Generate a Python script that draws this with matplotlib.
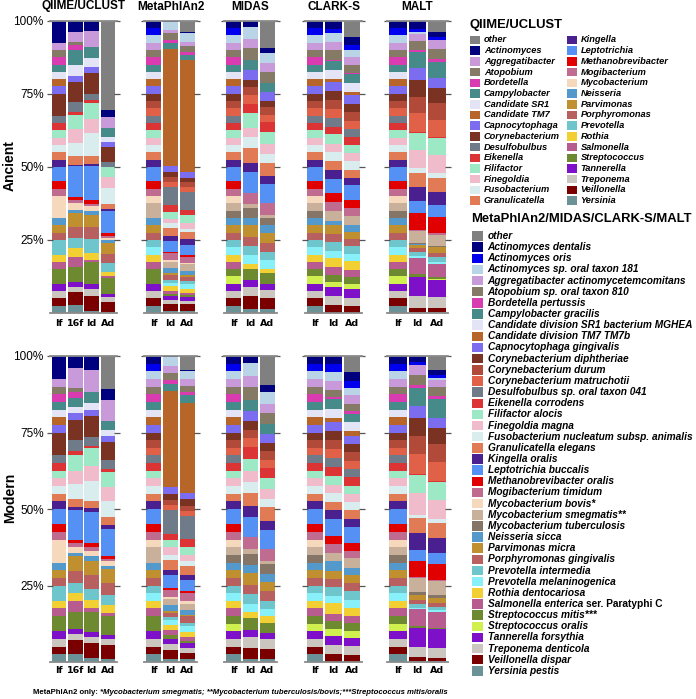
import numpy as np
import matplotlib
matplotlib.use("Agg")
import matplotlib.pyplot as plt
from matplotlib import font_manager
from matplotlib.patches import Rectangle

plt.rcParams["font.family"] = ["Liberation Sans", "DejaVu Sans"]

# ---- taxa (legend order; stacks are drawn bottom-up from the end of the list) ----
GENERA = [
    "other", "Actinomyces", "Aggregatibacter", "Atopobium", "Bordetella",
    "Campylobacter", "Candidate SR1", "Candidate TM7", "Capnocytophaga",
    "Corynebacterium", "Desulfobulbus", "Eikenella", "Filifactor", "Finegoldia",
    "Fusobacterium", "Granulicatella", "Kingella", "Leptotrichia",
    "Methanobrevibacter", "Mogibacterium", "Mycobacterium", "Neisseria",
    "Parvimonas", "Porphyromonas", "Prevotella", "Rothia", "Salmonella",
    "Streptococcus", "Tannerella", "Treponema", "Veillonella", "Yersinia",
]
GENUS_COLORS = [
    "#808080", "#00007f", "#c99ad9", "#857a66", "#d93bb0",
    "#468b8a", "#e3e4f5", "#b8652a", "#7b6cf0",
    "#7a3322", "#6f7b89", "#dc3434", "#9de8c5", "#f0bccc",
    "#d9ecee", "#e07b55", "#4a2090", "#5590f5",
    "#e00000", "#c06b90", "#f6d8bd", "#5499cc",
    "#c09030", "#b86060", "#6ec6cc", "#f2d033", "#b85c90",
    "#6e8a30", "#7d10c8", "#cbc6bf", "#7a0000", "#6b9296",
]

SPECIES = [
    "other", "Actinomyces dentalis", "Actinomyces oris",
    "Actinomyces sp. oral taxon 181", "Aggregatibacter actinomycetemcomitans",
    "Atopobium sp. oral taxon 810", "Bordetella pertussis", "Campylobacter gracilis",
    "Candidate division SR1 bacterium MGHEA", "Candidate division TM7 TM7b",
    "Capnocytophaga gingivalis", "Corynebacterium diphtheriae",
    "Corynebacterium durum", "Corynebacterium matruchotii",
    "Desulfobulbus sp. oral taxon 041", "Eikenella corrodens", "Filifactor alocis",
    "Finegoldia magna", "Fusobacterium nucleatum subsp. animalis",
    "Granulicatella elegans", "Kingella oralis", "Leptotrichia buccalis",
    "Methanobrevibacter oralis", "Mogibacterium timidum", "Mycobacterium bovis*",
    "Mycobacterium smegmatis**", "Mycobacterium tuberculosis", "Neisseria sicca",
    "Parvimonas micra", "Porphyromonas gingivalis", "Prevotella intermedia",
    "Prevotella melaninogenica", "Rothia dentocariosa",
    "Salmonella enterica ser. Paratyphi C", "Streptococcus mitis***",
    "Streptococcus oralis", "Tannerella forsythia", "Treponema denticola",
    "Veillonella dispar", "Yersinia pestis",
]
SPECIES_COLORS = [
    "#808080", "#00007f", "#0000ee",
    "#b8d4e6", "#c99ad9",
    "#857a66", "#d93bb0", "#468b8a",
    "#e3e4f5", "#b8652a",
    "#7b6cf0", "#7a3322",
    "#b24a3a", "#e06048",
    "#6f7b89", "#dc3434", "#9de8c5",
    "#f0bccc", "#d9ecee",
    "#e07b55", "#4a2090", "#5590f5",
    "#e00000", "#c06b90", "#f6d8bd",
    "#c8b09a", "#857566", "#5499cc",
    "#c09030", "#b86060", "#6ec6cc",
    "#88f0f8", "#f2d033",
    "#b85c90", "#6e8a30",
    "#d0f050", "#7d10c8", "#cbc6bf",
    "#7a0000", "#6b9296",
]

QIIME_LABELS = ["If", "16f", "Id", "Ad"]
SPECIES_LABELS = ["If", "Id", "Ad"]

# ---- QIIME/UCLUST, genus level (% per genus, GENERA order) ----
QIIME_IF = [0, 7.5, 2.5, 2.5, 2.5, 2.5, 2.5, 2.5, 2.5, 7.5,
            2.5, 2.5, 2.5, 2.5, 2.5, 2.5, 2.5, 5.0, 2.5, 2.5,
            7.5, 2.5, 2.5, 2.5, 5.0, 2.5, 2.5, 5.0, 2.5, 2.5,
            2.5, 2.5]
QIIME_ANC_16F = [0, 4.0, 3.2, 1.1, 1.7, 5.1, 3.8, 0, 1.9, 6.8,
                 3.4, 1.1, 4.8, 4.6, 4.6, 2.9, 0.6, 10.3, 1.1, 1.1,
                 2.3, 1.1, 4.8, 3.8, 3.4, 2.9, 3.4, 5.3, 1.5, 1.7,
                 4.6, 2.6]
QIIME_ANC_ID = [0, 3.5, 5.4, 0, 0, 4.0, 2.9, 0, 2.0, 7.3,
                2.0, 0.9, 5.4, 5.1, 7.8, 2.5, 0.9, 11.4, 1.4, 0.9,
                1.6, 1.5, 4.1, 3.8, 4.9, 2.3, 0.8, 7.6, 1.7, 2.4,
                5.0, 0.7]
QIIME_ANC_AD = [30.5, 2.5, 3.8, 0, 0, 2.9, 1.7, 0, 1.7, 5.1,
                1.7, 0, 3.6, 3.8, 5.4, 1.5, 0.9, 7.6, 0.9, 0.5,
                0.7, 1.1, 3.7, 3.2, 3.1, 1.5, 0.5, 5.5, 1.1, 1.5,
                3.6, 0.3]
QIIME_MOD_16F = [0, 4.0, 6.5, 1.1, 1.9, 3.1, 2.0, 0, 2.1, 6.5,
                 3.6, 1.3, 5.2, 4.4, 4.9, 2.4, 1.1, 9.8, 0.8, 1.4,
                 1.8, 1.1, 4.9, 3.8, 3.3, 2.7, 3.3, 5.8, 1.5, 2.0,
                 4.4, 2.7]
QIIME_MOD_ID = [0, 4.4, 7.3, 0, 0, 3.6, 2.1, 0, 2.0, 6.9,
                3.0, 0.7, 5.8, 4.9, 6.5, 2.2, 1.4, 10.0, 1.1, 1.4,
                1.8, 1.4, 4.6, 4.6, 3.4, 2.7, 1.3, 6.5, 1.6, 2.0,
                4.9, 1.3]
QIIME_MOD_AD = [10.6, 3.6, 6.8, 0, 0, 3.0, 1.9, 0, 1.9, 6.0,
                2.7, 0.9, 5.1, 4.5, 5.1, 2.7, 1.1, 8.7, 1.1, 0.5,
                1.6, 1.1, 4.4, 4.0, 3.3, 2.5, 1.1, 6.0, 1.3, 2.0,
                4.4, 1.1]

# ---- species level (% per species, SPECIES order) ----
SPECIES_IF = [0, 2.5, 2.5, 2.5, 2.5, 2.5, 2.5, 2.5, 2.5, 2.5,
              2.5, 2.5, 2.5, 2.5, 2.5, 2.5, 2.5, 2.5, 2.5, 2.5,
              2.5, 5.0, 2.5, 2.5, 2.5, 2.5, 2.5, 2.5, 2.5, 2.5,
              2.5, 2.5, 2.5, 2.5, 2.5, 2.5, 2.5, 2.5, 2.5, 2.5]
METAPHLAN_IF = [0, 2.5, 2.5, 2.5, 2.5, 2.5, 2.5, 2.5, 2.5, 2.5,
                2.5, 2.5, 2.5, 2.5, 2.5, 2.5, 2.5, 2.5, 2.5, 2.5,
                2.5, 5.0, 2.5, 2.5, 2.5, 5.0, 0, 2.5, 2.5, 2.5,
                2.5, 2.5, 2.5, 2.5, 5.0, 0, 2.5, 2.5, 2.5, 2.5]

METAPHLAN_ANC_ID = [0, 0.3, 0, 2.9, 1.1, 2.5, 0.9, 2.0, 0, 40.4,
                    1.8, 1.9, 1.5, 1.9, 6.3, 2.3, 2.3, 1.4, 1.8, 2.7,
                    1.8, 3.6, 0.6, 2.3, 0.6, 2.1, 0, 1.7, 0.6, 1.7,
                    1.1, 1.1, 1.9, 0.8, 0.7, 0, 1.4, 1.4, 2.3, 0.8]
METAPHLAN_ANC_AD = [3.8, 0.6, 0, 2.9, 1.5, 1.9, 1.1, 1.9, 0, 38.5,
                    2.1, 1.4, 1.7, 1.7, 6.3, 1.7, 2.7, 2.1, 1.1, 2.5,
                    2.1, 3.4, 0.5, 2.1, 0.6, 2.3, 0, 1.5, 0.4, 1.6,
                    1.1, 1.5, 1.5, 0.8, 0.6, 0, 1.4, 1.1, 2.3, 0.7]
METAPHLAN_MOD_ID = [0, 0.4, 0, 2.8, 2.2, 2.4, 1.3, 2.2, 0, 31.4,
                    2.2, 2.0, 1.9, 1.6, 7.6, 2.2, 2.2, 2.7, 1.6, 3.3,
                    1.6, 4.0, 0.7, 2.4, 0.5, 2.2, 0, 1.9, 0.5, 1.4,
                    1.1, 1.4, 1.9, 1.6, 1.1, 0, 1.6, 2.2, 2.9, 0.9]
METAPHLAN_MOD_AD = [4.6, 0.5, 0, 2.5, 2.2, 2.2, 1.1, 2.4, 0, 30.0,
                    1.9, 2.5, 1.6, 1.6, 7.6, 2.7, 2.5, 2.2, 1.5, 3.1,
                    1.6, 3.8, 0.5, 2.7, 0.9, 1.9, 0, 1.9, 0.4, 2.0,
                    1.3, 1.7, 1.9, 1.1, 0.8, 0, 1.7, 1.5, 2.2, 0.9]

MIDAS_ANC_ID = [0, 2.1, 0, 4.0, 3.4, 4.0, 0, 3.4, 0, 0,
                3.4, 2.5, 2.6, 3.1, 0, 3.2, 5.1, 3.1, 3.8, 4.9,
                3.1, 7.2, 0, 3.9, 0, 1.5, 3.1, 2.6, 4.0, 3.2,
                3.1, 2.9, 1.7, 0, 4.0, 0, 2.3, 3.2, 4.2, 1.5]
MIDAS_ANC_AD = [9.5, 1.5, 0, 3.6, 2.9, 4.0, 0, 2.9, 0, 0,
                3.1, 2.1, 2.9, 2.3, 0, 3.4, 4.2, 3.2, 3.2, 4.6,
                2.7, 6.6, 0, 4.0, 0, 1.1, 2.3, 2.9, 3.4, 2.9,
                2.9, 2.9, 1.5, 0, 3.6, 0, 2.1, 2.7, 3.8, 1.5]
MIDAS_MOD_ID = [0, 2.4, 0, 4.1, 3.5, 4.4, 0, 3.5, 0, 0,
                3.1, 3.1, 2.7, 2.9, 0, 3.8, 3.8, 3.8, 3.3, 4.4,
                3.6, 6.5, 0, 4.0, 0, 1.4, 3.5, 2.7, 3.8, 3.1,
                3.3, 2.4, 2.2, 0, 3.8, 0, 2.2, 3.6, 3.5, 1.1]
MIDAS_MOD_AD = [9.5, 2.2, 0, 3.8, 3.1, 3.7, 0, 3.3, 0, 0,
                2.8, 2.7, 2.7, 2.6, 0, 3.3, 3.6, 3.3, 2.7, 4.4,
                3.1, 6.2, 0, 3.8, 0, 0.9, 3.3, 2.6, 3.1, 3.1,
                2.6, 2.5, 2.2, 0, 3.3, 0, 1.9, 3.1, 3.5, 0.9]

CLARK_ANC_ID = [0, 3.0, 1.4, 2.9, 2.9, 3.2, 0.5, 3.0, 3.1, 1.1,
                3.1, 3.0, 3.1, 3.1, 3.0, 2.7, 3.2, 2.9, 3.1, 3.2,
                2.9, 4.9, 3.1, 3.1, 0, 3.2, 0, 1.7, 2.9, 2.9,
                3.1, 2.3, 3.2, 2.5, 2.6, 1.7, 3.2, 3.1, 2.6, 0]
CLARK_ANC_AD = [5.5, 2.9, 1.7, 2.3, 2.9, 2.6, 0.5, 3.0, 3.1, 1.1,
                2.9, 2.9, 2.9, 2.9, 2.9, 2.5, 3.0, 2.7, 3.0, 2.7,
                2.6, 4.9, 2.7, 3.0, 0, 3.1, 0, 2.3, 2.3, 2.6,
                2.5, 2.5, 3.0, 2.5, 2.3, 1.7, 3.1, 3.0, 2.3, 0]
CLARK_MOD_ID = [0, 2.6, 2.5, 2.9, 2.8, 2.4, 0.8, 3.0, 2.9, 1.4,
                2.9, 2.8, 2.9, 2.9, 2.8, 2.9, 2.9, 2.8, 2.9, 2.5,
                2.9, 5.4, 2.7, 2.7, 0, 2.7, 0, 3.1, 2.6, 2.8,
                2.6, 2.5, 3.3, 2.5, 2.4, 2.2, 3.1, 2.9, 2.5, 0]
CLARK_MOD_AD = [5.1, 2.9, 2.2, 2.5, 2.7, 2.4, 0.9, 2.7, 2.9, 1.4,
                2.9, 2.5, 2.7, 2.7, 2.7, 2.7, 2.7, 2.7, 2.5, 2.9,
                2.7, 4.9, 2.7, 2.4, 0, 3.1, 0, 2.4, 2.5, 2.7,
                2.7, 2.5, 2.6, 2.5, 2.5, 2.2, 2.6, 2.8, 2.4, 0]

MALT_ANC_ID = [0, 3.0, 0.8, 0.6, 2.5, 3.2, 0.8, 5.5, 0, 0,
               4.0, 5.7, 5.7, 6.3, 0, 0.4, 5.9, 6.3, 1.5, 5.0,
               4.6, 4.3, 5.7, 0.6, 0, 3.8, 0.5, 0.3, 1.1, 1.5,
               1.1, 0.8, 0, 5.5, 0.9, 0.2, 6.6, 3.9, 1.5, 0.3]
MALT_ANC_AD = [3.8, 1.9, 0.9, 0, 3.2, 3.4, 0.8, 5.7, 0, 0,
               3.4, 5.1, 5.7, 5.7, 0, 0.6, 5.7, 6.3, 1.7, 4.6,
               4.6, 4.0, 5.5, 0.5, 0, 3.8, 0.6, 0, 2.0, 1.4,
               1.4, 0.9, 0, 4.3, 0.8, 0.3, 5.9, 3.6, 1.5, 0.3]
MALT_MOD_ID = [0, 1.9, 1.1, 0, 3.3, 3.3, 0.8, 6.1, 0, 0,
               3.7, 5.8, 6.0, 6.5, 0, 0.3, 6.0, 7.1, 0.9, 5.1,
               5.4, 3.6, 5.4, 0.3, 0, 4.6, 0.9, 0, 1.5, 1.4,
               1.4, 0.4, 0, 5.4, 0.7, 0, 6.2, 3.3, 1.4, 0.2]
MALT_MOD_AD = [4.4, 1.9, 0.8, 0.6, 2.4, 3.0, 0.8, 6.2, 0, 0,
               3.3, 5.4, 5.8, 6.0, 0, 0.5, 5.8, 6.2, 1.4, 4.8,
               4.7, 3.8, 5.2, 0.3, 0, 4.6, 0.9, 0, 1.5, 1.4,
               1.1, 0.5, 0, 5.2, 0.4, 0, 6.1, 3.3, 1.1, 0.2]

W, H = 696, 699


def fx(px):
    return px / W


def fy(py):
    return 1 - py / H


def draw_stack(ax, bars, colors):
    data = np.array(bars, dtype=float)
    data = data / data.sum(axis=1, keepdims=True) * 100
    xs = np.arange(len(bars))
    bottom = np.zeros(len(bars))
    for i in range(data.shape[1] - 1, -1, -1):
        ax.bar(xs, data[:, i], bottom=bottom, width=0.9,
               color=colors[i], linewidth=0)
        bottom += data[:, i]


def mixed_text(fig, renderer, x, y, parts, size, family=None):
    # parts: list of (text, style) drawn one after another on a line
    for text, style in parts:
        t = fig.text(fx(x), fy(y), text, fontsize=size, fontweight="bold",
                     fontstyle=style, ha="left", va="center", family=family)
        x = t.get_window_extent(renderer).x1


def legend_block(fig, renderer, title, names, colors, x, y_title, y_first,
                 pitch, rows, col_step, box_w, box_h, gap, size):
    fig.text(fx(x - 1), fy(y_title), title, fontsize=9.4, fontweight="bold",
             ha="left", va="center")
    for k, (name, color) in enumerate(zip(names, colors)):
        col, row = divmod(k, rows)
        bx = x + col * col_step
        cy = y_first + row * pitch
        fig.patches.append(Rectangle((fx(bx), fy(cy + box_h / 2)), box_w / W,
                                     box_h / H, transform=fig.transFigure,
                                     facecolor=color, linewidth=0, figure=fig))
        if " ser. " in name:
            head, tail = name.split(" ser. ")
            parts = [(head + " ", "italic"), ("ser. " + tail, "normal")]
        else:
            parts = [(name, "italic")]
        mixed_text(fig, renderer, bx + box_w + gap, cy, parts, size)


def main() -> None:
    fig = plt.figure(figsize=(W / 100, H / 100), dpi=100)
    renderer = fig.canvas.get_renderer()

    groups = [
        ("QIIME/UCLUST", 50, 117, QIIME_LABELS, GENUS_COLORS,
         [QIIME_IF, QIIME_ANC_16F, QIIME_ANC_ID, QIIME_ANC_AD],
         [QIIME_IF, QIIME_MOD_16F, QIIME_MOD_ID, QIIME_MOD_AD]),
        ("MetaPhlAn2", 144, 197, SPECIES_LABELS, SPECIES_COLORS,
         [METAPHLAN_IF, METAPHLAN_ANC_ID, METAPHLAN_ANC_AD],
         [METAPHLAN_IF, METAPHLAN_MOD_ID, METAPHLAN_MOD_AD]),
        ("MIDAS", 224, 277, SPECIES_LABELS, SPECIES_COLORS,
         [SPECIES_IF, MIDAS_ANC_ID, MIDAS_ANC_AD],
         [SPECIES_IF, MIDAS_MOD_ID, MIDAS_MOD_AD]),
        ("CLARK-S", 305, 362, SPECIES_LABELS, SPECIES_COLORS,
         [SPECIES_IF, CLARK_ANC_ID, CLARK_ANC_AD],
         [SPECIES_IF, CLARK_MOD_ID, CLARK_MOD_AD]),
        ("MALT", 387, 448, SPECIES_LABELS, SPECIES_COLORS,
         [SPECIES_IF, MALT_ANC_ID, MALT_ANC_AD],
         [SPECIES_IF, MALT_MOD_ID, MALT_MOD_AD]),
    ]
    rows = [("Ancient", 20.7, 313, 166, 4.2), ("Modern", 356, 662, 498, 3.2)]

    for r, (row_name, top, bottom, label_y, pad) in enumerate(rows):
        fig.text(fx(10), fy(label_y), row_name, rotation=90, fontsize=10,
                 fontweight="bold", ha="center", va="center")
        for g, (title, left, right, labels, colors, anc, mod) in enumerate(groups):
            bars = anc if r == 0 else mod
            ax = fig.add_axes([fx(left), fy(bottom), (right - left) / W,
                               (bottom - top) / H])
            draw_stack(ax, bars, colors)
            n = len(bars)
            ax.set_xlim(-0.56, n - 0.44)
            ax.set_ylim(0, 100)
            ax.set_facecolor("none")
            for s in ("left", "right"):
                ax.spines[s].set_visible(False)
            for s in ("top", "bottom"):
                ax.spines[s].set_color("#8a8a8a")
                ax.spines[s].set_linewidth(1.3)
            ax.set_xticks(np.arange(n))
            ax.set_xticklabels(labels, fontfamily="DejaVu Sans",
                               fontweight="bold", fontsize=6.8)
            ax.tick_params(axis="x", length=0, pad=pad)
            ax.set_yticks([25, 50, 75, 100])
            ax.tick_params(axis="y", left=True, right=True, direction="inout",
                           length=5, width=0.9, color="#555555", pad=2)
            if g == 0:
                ax.set_yticklabels(["25%", "50%", "75%", "100%"], fontsize=8.5)
            else:
                ax.tick_params(axis="y", labelleft=False)
            if r == 0:
                fig.text(fx((left + right) / 2), fy(6.5), title, fontsize=8.5,
                         fontweight="bold", ha="center", va="center")

    legend_block(fig, renderer, "QIIME/UCLUST", GENERA, GENUS_COLORS,
                 x=470, y_title=25, y_first=40, pitch=10.71, rows=16,
                 col_step=96.7, box_w=10, box_h=8.5, gap=4, size=6.7)
    legend_block(fig, renderer, "MetaPhlAn2/MIDAS/CLARK-S/MALT", SPECIES,
                 SPECIES_COLORS, x=471.7, y_title=219, y_first=236,
                 pitch=11.15, rows=40, col_step=0, box_w=11.6, box_h=9.5,
                 gap=4.4, size=7.3)

    # footnote: the original uses a narrow sans face
    installed = {f.name for f in font_manager.fontManager.ttflist}
    if "Liberation Sans Narrow" in installed:
        note_family, note_size = ["Liberation Sans Narrow"], 6.7
    else:
        note_family, note_size = ["Liberation Sans"], 5.6
    mixed_text(fig, renderer, 33, 692,
               [("MetaPhlAn2 only: ", "normal"),
                ("*Mycobacterium smegmatis; **Mycobacterium tuberculosis/bovis;"
                 "***Streptococcus mitis/oralis", "italic")],
               note_size, family=note_family)

    fig.savefig("out.png", dpi=100)


if __name__ == "__main__":
    main()
